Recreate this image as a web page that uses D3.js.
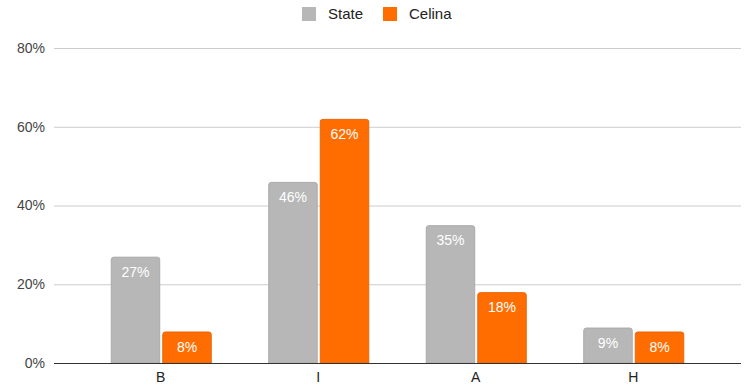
<!DOCTYPE html>
<html>
<head>
<meta charset="utf-8">
<script src="https://cdn.jsdelivr.net/npm/d3@7"></script>
<style>
  body { margin: 0; background: #fff; }
  text { font-family: Arial, "Liberation Sans", sans-serif; }
</style>
</head>
<body>
<svg id="chart"></svg>
<script>
var categories = ["B", "I", "A", "H"];
var seriesNames = ["State", "Celina"];
var stateValues = [27, 46, 35, 9];
var celinaValues = [8, 62, 18, 8];
var yTicks = [0, 20, 40, 60, 80];

var colors = { "State": "#b7b7b7", "Celina": "#ff6d01" };
var strokes = { "State": "#a9a9a9", "Celina": "#e8650a" };

var width = 750, height = 391;
var svg = d3.select("#chart").attr("width", width).attr("height", height);

var y = d3.scaleLinear().domain([0, 80]).range([363, 48]);
var x = d3.scaleBand().domain(categories).range([82, 712]);
var xInner = d3.scaleBand().domain(seriesNames).range([x.bandwidth() / 2 - 50, x.bandwidth() / 2 + 51]).paddingInner(0.04);

var data = categories.map(function (c, i) {
  return { cat: c, values: [
    { name: "State", value: stateValues[i] },
    { name: "Celina", value: celinaValues[i] }
  ]};
});

// gridlines + y labels
var grid = svg.append("g");
grid.selectAll("line")
  .data(yTicks.slice(1))
  .enter().append("line")
  .attr("x1", 54).attr("x2", 741)
  .attr("y1", function (d) { return y(d) + 0.5; })
  .attr("y2", function (d) { return y(d) + 0.5; })
  .attr("stroke", "#cccccc").attr("stroke-width", 1);

grid.selectAll("text")
  .data(yTicks)
  .enter().append("text")
  .attr("x", 45)
  .attr("y", function (d) { return y(d); })
  .attr("dy", "0.35em")
  .attr("text-anchor", "end")
  .attr("font-size", 14)
  .attr("fill", "#444")
  .text(function (d) { return d + "%"; });

// bars
var groups = svg.append("g").selectAll("g")
  .data(data)
  .enter().append("g")
  .attr("transform", function (d) { return "translate(" + x(d.cat) + ",0)"; });

groups.selectAll("path")
  .data(function (d) { return d.values; })
  .enter().append("path")
  .attr("d", function (d) {
    var x0 = xInner(d.name) + 0.5, w = xInner.bandwidth() - 1;
    var top = y(d.value) + 0.5, bot = y(0), r = 2.5;
    return "M" + x0 + "," + bot +
      "V" + (top + r) +
      "Q" + x0 + "," + top + " " + (x0 + r) + "," + top +
      "H" + (x0 + w - r) +
      "Q" + (x0 + w) + "," + top + " " + (x0 + w) + "," + (top + r) +
      "V" + bot + "Z";
  })
  .attr("fill", function (d) { return colors[d.name]; })
  .attr("stroke", function (d) { return strokes[d.name]; })
  .attr("stroke-width", 1);

groups.selectAll("text")
  .data(function (d) { return d.values; })
  .enter().append("text")
  .attr("x", function (d) { return xInner(d.name) + xInner.bandwidth() / 2; })
  .attr("y", function (d) { return y(d.value) + 20; })
  .attr("text-anchor", "middle")
  .attr("font-size", 14)
  .attr("fill", "#ffffff")
  .text(function (d) { return d.value + "%"; });

// baseline
svg.append("line")
  .attr("x1", 54).attr("x2", 741)
  .attr("y1", y(0) + 0.5).attr("y2", y(0) + 0.5)
  .attr("stroke", "#333").attr("stroke-width", 1);

// x labels
svg.append("g").selectAll("text")
  .data(categories)
  .enter().append("text")
  .attr("x", function (d) { return x(d) + x.bandwidth() / 2; })
  .attr("y", 382)
  .attr("text-anchor", "middle")
  .attr("font-size", 14)
  .attr("fill", "#222")
  .text(function (d) { return d; });

// legend
var legendX = [302, 383];
var legend = svg.append("g").selectAll("g")
  .data(seriesNames)
  .enter().append("g")
  .attr("transform", function (d, i) { return "translate(" + legendX[i] + ",7)"; });

legend.append("rect")
  .attr("width", 14).attr("height", 14)
  .attr("fill", function (d) { return colors[d]; });

legend.append("text")
  .attr("x", 26).attr("y", 7)
  .attr("dy", "0.35em")
  .attr("font-size", 15)
  .attr("fill", "#222")
  .text(function (d) { return d; });
</script>
</body>
</html>
